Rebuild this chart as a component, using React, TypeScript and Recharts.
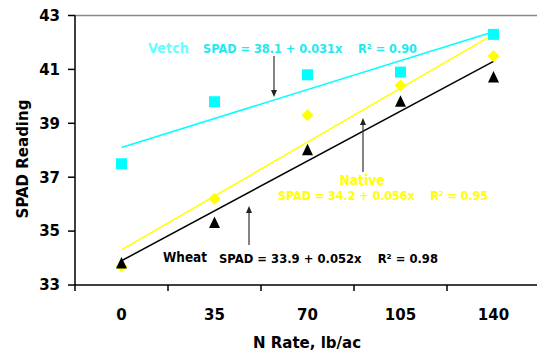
import { ComposedChart, Line, XAxis, YAxis, ReferenceLine } from 'recharts';

const nRates = [0, 35, 70, 105, 140];
const vetch = [37.5, 39.8, 40.8, 40.9, 42.3];
const native = [33.7, 36.2, 39.3, 40.4, 41.5];
const wheat = [33.8, 35.3, 38.0, 39.8, 40.7];
// fitted line end points
const vetchFit = [38.1, null, null, null, 42.4];
const nativeFit = [34.3, null, null, null, 42.3];
const wheatFit = [33.9, null, null, null, 41.3];
const yTicks = [33, 35, 37, 39, 41, 43];

const data = nRates.map((n, i) => ({
  n,
  vetch: vetch[i],
  native: native[i],
  wheat: wheat[i],
  vetchFit: vetchFit[i],
  nativeFit: nativeFit[i],
  wheatFit: wheatFit[i],
}));

const half = 17.5;
const edges = [...nRates.map((v) => v - half), nRates[nRates.length - 1] + half];
const xTicks = [...edges, ...nRates].sort((a, b) => a - b);

const FONT = "'DejaVu Sans', sans-serif";
const CYAN = '#00FFFF';
const YELLOW = '#FFFF00';

function XTick({ x, y, payload }: any) {
  const v = payload.value;
  if (nRates.includes(v)) {
    return (
      <text x={x} y={y + 35} textAnchor="middle" fontFamily={FONT} fontWeight="bold" fontSize={15} fill="#000">
        {v}
      </text>
    );
  }
  return <line x1={x} x2={x} y1={y} y2={y + 6} stroke="#000" strokeWidth={1.5} />;
}

const square = (p: any) => (
  <rect key={`s${p.index}`} x={p.cx - 5.5} y={p.cy - 5.5} width={11} height={11} fill={CYAN} />
);
const diamond = (p: any) => (
  <polygon
    key={`d${p.index}`}
    points={`${p.cx},${p.cy - 6} ${p.cx + 6},${p.cy} ${p.cx},${p.cy + 6} ${p.cx - 6},${p.cy}`}
    fill={YELLOW}
  />
);
const triangle = (p: any) => (
  <polygon
    key={`t${p.index}`}
    points={`${p.cx},${p.cy - 6.5} ${p.cx + 5.5},${p.cy + 5} ${p.cx - 5.5},${p.cy + 5}`}
    fill="#000"
  />
);

function Arrow({ x, y1, y2 }: { x: number; y1: number; y2: number }) {
  const dir = y2 > y1 ? 1 : -1;
  return (
    <g>
      <line x1={x} x2={x} y1={y1} y2={y2 - dir * 5} stroke="#333" strokeWidth={1.2} />
      <polygon points={`${x},${y2} ${x - 3},${y2 - dir * 7} ${x + 3},${y2 - dir * 7}`} fill="#222" />
    </g>
  );
}

export default function App() {
  return (
    <div style={{ position: 'absolute', left: 0, top: 0, width: 537, height: 354, overflow: 'hidden', background: '#fff' }}>
      <ComposedChart width={540} height={354} data={data} margin={{ top: 15.5, right: 0, left: 15, bottom: 9 }}>
        <ReferenceLine y={43} stroke="#888" strokeWidth={1.5} />
        <XAxis
          dataKey="n"
          type="number"
          domain={[-half, nRates[nRates.length - 1] + half]}
          ticks={xTicks}
          interval={0}
          tick={<XTick />}
          tickLine={false}
          tickSize={0}
          tickMargin={0}
          axisLine={{ stroke: '#000', strokeWidth: 1.5 }}
          height={60}
        />
        <YAxis
          domain={[33, 43]}
          ticks={yTicks}
          interval={0}
          width={60}
          tickSize={7}
          tickMargin={8}
          tickLine={{ stroke: '#000', strokeWidth: 1.5 }}
          axisLine={{ stroke: '#000', strokeWidth: 1.5 }}
          tick={{ fill: '#000', fontSize: 15, fontWeight: 'bold', fontFamily: FONT }}
        />
        <Line dataKey="vetchFit" stroke={CYAN} strokeWidth={1.5} dot={false} connectNulls isAnimationActive={false} />
        <Line dataKey="nativeFit" stroke={YELLOW} strokeWidth={1.5} dot={false} connectNulls isAnimationActive={false} />
        <Line dataKey="wheatFit" stroke="#000" strokeWidth={1.5} dot={false} connectNulls isAnimationActive={false} />
        <Line dataKey="native" stroke="none" dot={diamond} activeDot={false} isAnimationActive={false} />
        <Line dataKey="vetch" stroke="none" dot={square} activeDot={false} isAnimationActive={false} />
        <Line dataKey="wheat" stroke="none" dot={triangle} activeDot={false} isAnimationActive={false} />
      </ComposedChart>
      <svg width={537} height={354} style={{ position: 'absolute', left: 0, top: 0, pointerEvents: 'none' }}>
        <g fontFamily={FONT} fontWeight="bold">
          <text x={23} y={159} transform="rotate(-90 23 159)" dy={5} textAnchor="middle" fontSize={15} fill="#000">
            SPAD Reading
          </text>
          <text x={307} y={348} textAnchor="middle" fontSize={15} fill="#000">
            N Rate, lb/ac
          </text>

          <text x={148} y={53} fontSize={14} fill="#66FFFF" textLength={41} lengthAdjust="spacingAndGlyphs">
            Vetch
          </text>
          <text x={203} y={53} fontSize={13} fill="#22E8F0" textLength={214} lengthAdjust="spacingAndGlyphs">
            SPAD = 38.1 + 0.031x{'\u00a0\u00a0\u00a0\u00a0'}R² = 0.90
          </text>

          <text x={362} y={185} textAnchor="middle" fontSize={14} fill={YELLOW} textLength={45} lengthAdjust="spacingAndGlyphs">
            Native
          </text>
          <text x={278} y={200} fontSize={13} fill={YELLOW} textLength={210} lengthAdjust="spacingAndGlyphs">
            SPAD = 34.2 + 0.056x{'\u00a0\u00a0\u00a0\u00a0'}R² = 0.95
          </text>

          <text x={163} y={262} fontSize={14} fill="#000" textLength={44} lengthAdjust="spacingAndGlyphs">
            Wheat
          </text>
          <text x={219} y={263} fontSize={13} fill="#000" textLength={219} lengthAdjust="spacingAndGlyphs">
            SPAD = 33.9 + 0.052x{'\u00a0\u00a0\u00a0\u00a0'}R² = 0.98
          </text>
        </g>
        <Arrow x={274} y1={56} y2={97} />
        <Arrow x={363} y1={172} y2={118} />
        <Arrow x={249} y1={245} y2={206} />
      </svg>
    </div>
  );
}
